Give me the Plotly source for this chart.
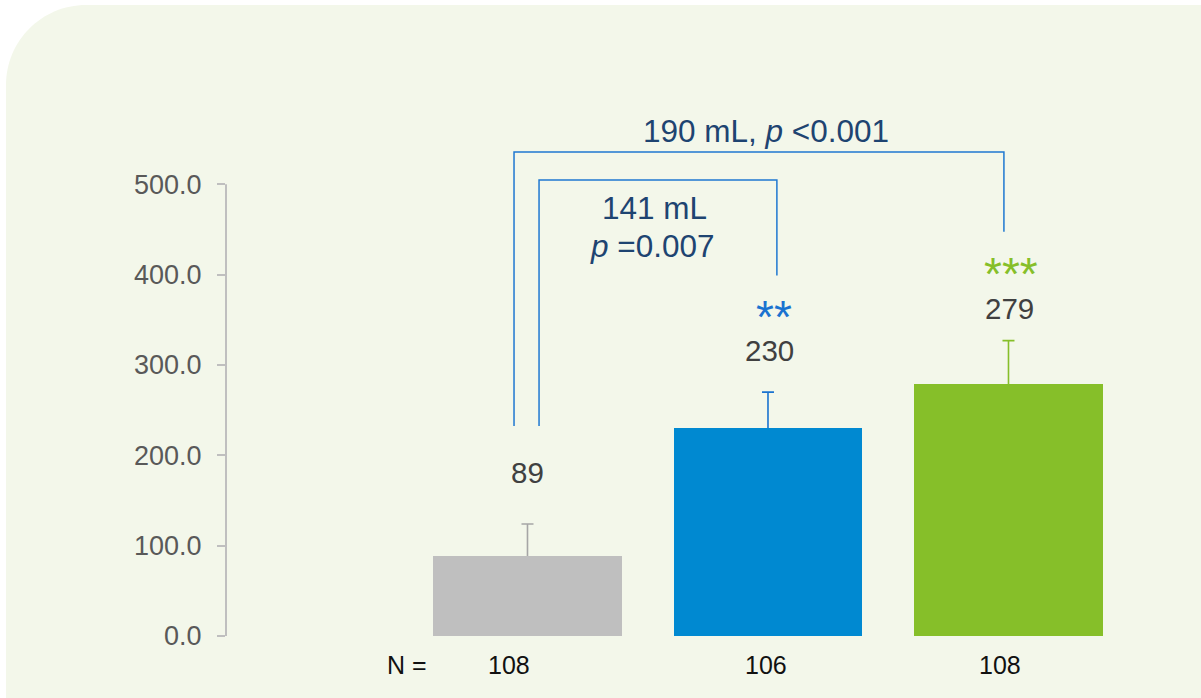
import plotly.graph_objects as go

# ---------------- data ----------------
groups = ["Placebo", "Treatment A", "Treatment B"]
means = [89, 230, 279]
errors = [35, 40, 48]
value_labels = ["89", "230", "279"]
n_labels = ["108", "106", "108"]
stars = ["", "**", "***"]
bracket_texts = ["190 mL, <i>p</i> &lt;0.001", "141 mL", "<i>p</i> =0.007"]
y_ticks = [0, 100, 200, 300, 400, 500]

# ---------------- style ----------------
W, H = 1201, 698
ML, MR, MT, MB = 226, 61, 94, 62
FONT = "Arial, Liberation Sans, sans-serif"
bar_colors = ["#bfbfbf", "#0089d1", "#86bf29"]
err_colors = ["#a6a6a6", "#1a73d0", "#86bf29"]
star_colors = ["#1a73d0", "#1a73d0", "#86bf29"]
line_col = "#1f78d1"
text_navy = "#1e4471"
bg = "#f3f7ea"
YR = [0, 600]

x = list(range(len(groups)))
PW = W - ML - MR
PH = H - MT - MB

def fx(px):
    return (px - ML) / PW

def fy(py):
    return (H - MB - py) / PH

fig = go.Figure()
# error bars (drawn on the base axis, underneath the bars so the lower cap is hidden)
hide = 3
for i in x:
    fig.add_trace(go.Scatter(
        x=[x[i]], y=[means[i] - hide], mode="markers",
        marker=dict(size=0.1, opacity=0),
        error_y=dict(type="data", array=[errors[i] + hide], arrayminus=[0],
                     symmetric=False, color=err_colors[i], thickness=1.6, width=6),
        showlegend=False, hoverinfo="skip", yaxis="y", xaxis="x",
    ))
# bars on an overlaying axis with identical range
for i in x:
    fig.add_trace(go.Bar(
        x=[x[i]], y=[means[i]], width=0.785,
        marker=dict(color=bar_colors[i], line=dict(width=0)),
        showlegend=False, hoverinfo="skip", yaxis="y2", xaxis="x",
    ))

# background rounded panel (paper coords)
r = 80
x0, y0, x1, y1 = 6, 5, 1215, 715
k = 0.5523 * r
path = (f"M {fx(x0)},{fy(y1)} L {fx(x0)},{fy(y0 + r)} "
        f"C {fx(x0)},{fy(y0 + r - k)} {fx(x0 + r - k)},{fy(y0)} {fx(x0 + r)},{fy(y0)} "
        f"L {fx(x1)},{fy(y0)} L {fx(x1)},{fy(y1)} Z")
shapes = [dict(type="path", xref="paper", yref="paper", path=path,
               fillcolor=bg, line=dict(width=0), layer="below")]

# y axis line from 0 to 500
shapes.append(dict(type="line", xref="paper", yref="y", x0=0, x1=0,
                   y0=y_ticks[0], y1=y_ticks[-1], line=dict(color="#bfbfbf", width=2)))

# significance brackets
outer = [(-0.056, 232.5), (-0.056, 535.8), (1.981, 535.8), (1.981, 447.5)]
inner = [(0.048, 232.5), (0.048, 504.8), (1.037, 504.8), (1.037, 399.2)]
for pts in (outer, inner):
    p = "M " + " L ".join(f"{a},{b}" for a, b in pts)
    shapes.append(dict(type="path", xref="x", yref="y", path=p,
                       line=dict(color=line_col, width=1.5)))

ann = []
ann.append(dict(x=0.9917, y=559, text=bracket_texts[0]))
ann.append(dict(x=0.526, y=473.3, text=bracket_texts[1]))
ann.append(dict(x=0.518, y=431.8, text=bracket_texts[2]))
for a in ann:
    a.update(xref="x", yref="y", showarrow=False, xanchor="center", yanchor="middle",
             font=dict(family=FONT, size=31.5, color=text_navy))

label_shift = [51.5, 42, 32.6]
label_xshift = [0, 2, 1]
star_shift = [0, 75, 67]
star_xshift = [0, 6, 3]
for i in x:
    top = means[i] + errors[i]
    ann.append(dict(x=x[i], y=top, xref="x", yref="y", text=value_labels[i],
                    showarrow=False, xanchor="center", yanchor="middle",
                    yshift=label_shift[i], xshift=label_xshift[i],
                    font=dict(family=FONT, size=29.5, color="#404040")))
    if stars[i]:
        ann.append(dict(x=x[i], y=top, xref="x", yref="y", text=stars[i],
                        showarrow=False, xanchor="center", yanchor="middle",
                        yshift=star_shift[i], xshift=star_xshift[i],
                        font=dict(family=FONT, size=46, color=star_colors[i])))

# N labels
n_xshift = [-18, -2, -8.5]
for i in x:
    ann.append(dict(x=x[i], y=0, xref="x", yref="y", text=n_labels[i], showarrow=False,
                    xanchor="center", yanchor="middle", yshift=-29, xshift=n_xshift[i],
                    font=dict(family=FONT, size=25, color="#111111")))
ann.append(dict(x=fx(407), y=0, xref="paper", yref="y", text="N =", showarrow=False,
                xanchor="center", yanchor="middle", yshift=-29,
                font=dict(family=FONT, size=25, color="#111111")))

fig.update_layout(
    width=W, height=H, autosize=False,
    margin=dict(l=ML, r=MR, t=MT, b=MB, pad=0),
    paper_bgcolor="white", plot_bgcolor="rgba(0,0,0,0)",
    shapes=shapes, annotations=ann, bargap=0,
    font=dict(family=FONT),
    xaxis=dict(range=[-1.2536, 2.5468], showticklabels=False, showgrid=False,
               zeroline=False, showline=False, ticks=""),
    yaxis=dict(range=YR, tickvals=y_ticks, tickformat=".1f",
               showgrid=False, zeroline=False, showline=False,
               ticks="outside", ticklen=8, tickwidth=2, tickcolor="#bfbfbf",
               ticklabelstandoff=10,
               tickfont=dict(family=FONT, size=27, color="#595959")),
    yaxis2=dict(range=YR, overlaying="y", visible=False, showgrid=False,
                zeroline=False),
)

fig.write_html("out.html", config={"displayModeBar": False},
               post_script="document.body.style.margin='0px';document.body.style.overflow='hidden';")
